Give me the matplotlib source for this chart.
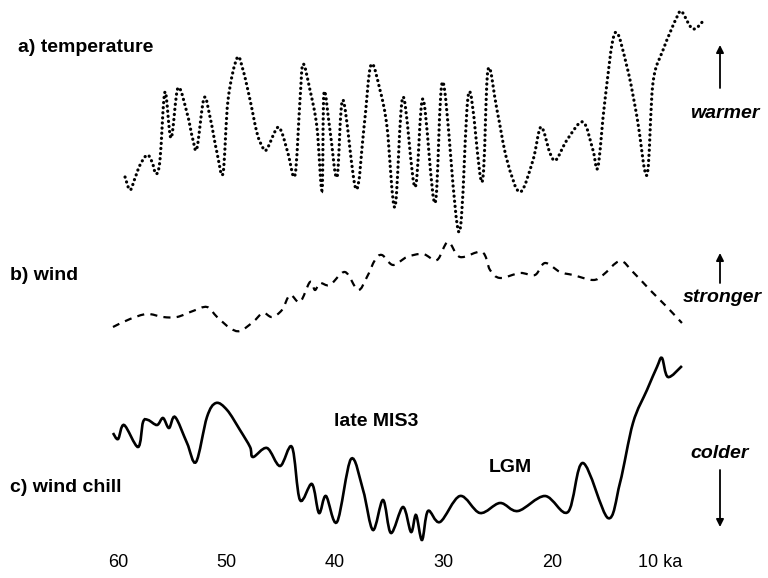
import numpy as np
import matplotlib
matplotlib.use("Agg")
import matplotlib.pyplot as plt
from matplotlib.path import Path
from matplotlib.patches import PathPatch

plt.rcParams['font.family'] = ['Liberation Sans', 'DejaVu Sans']

# ---- data (age in ka, relative values) ----
temp_age = [59.34, 58.88, 58.42, 57.96, 57.31, 56.85, 56.48, 56.12, 55.66, 55.10,
            54.46, 53.63, 53.08, 52.71, 52.06, 51.51, 50.86, 50.31, 49.85, 49.02,
            48.47, 47.82, 47.18, 46.63, 46.26, 45.34, 44.88, 44.33, 43.68, 43.22,
            42.94, 42.30, 41.66, 41.19, 41.01, 40.46, 39.81, 39.26, 38.06, 37.32,
            36.68, 35.85, 35.20, 34.47, 33.73, 32.62, 31.89, 30.78, 30.05, 28.57,
            27.65, 26.45, 25.90, 25.07, 24.15, 22.95, 21.75, 21.02, 20.19, 19.64,
            18.62, 17.15, 16.23, 15.77, 15.12, 14.20, 13.09, 12.17, 11.25, 10.70,
            9.77, 8.49, 8.03, 7.01, 5.91]
temp_val = [63, 50, 62, 75, 85, 78, 66, 80, 148, 102,
            152, 127, 100, 92, 142, 123, 87, 67, 140, 182,
            170, 140, 107, 92, 91, 112, 107, 87, 65, 140,
            176, 150, 113, 50, 147, 110, 63, 140, 51, 113,
            175, 150, 113, 33, 143, 53, 141, 37, 158, 8,
            148, 58, 170, 130, 80, 48, 80, 113, 87, 80,
            100, 118, 90, 73, 140, 207, 173, 123, 65, 157,
            190, 223, 228, 211, 221]

wind_age = [60.45, 58.88, 57.31, 55.84, 54.55, 53.08, 51.79, 50.86, 49.67, 48.75,
            47.55, 46.63, 45.80, 44.88, 44.14, 43.22, 42.30, 41.84, 41.38, 40.46,
            39.08, 37.88, 37.05, 36.31, 35.67, 34.65, 33.36, 31.89, 30.60, 29.59,
            28.48, 26.45, 25.71, 24.79, 22.95, 21.57, 20.65, 19.26, 18.07, 16.23,
            15.30, 13.74, 12.54, 10.97, 9.41, 8.03]
wind_val = [13, 21, 26, 23, 23, 29, 33, 23, 12, 9,
            18, 27, 23, 30, 45, 38, 58, 50, 57, 55,
            68, 50, 63, 80, 85, 75, 83, 86, 80, 98,
            83, 88, 70, 62, 67, 65, 77, 68, 65, 60,
            65, 79, 68, 50, 33, 17]

chill_age = [60.45, 59.98, 59.43, 58.14, 57.68, 57.22, 56.39, 55.84, 55.29, 54.73,
             53.63, 52.80, 51.79, 50.96, 49.94, 48.75, 47.82, 47.55, 46.26, 45.06,
             43.96, 43.22, 42.12, 41.47, 40.83, 39.81, 38.52, 37.41, 36.50, 35.57,
             34.84, 33.73, 32.99, 32.53, 31.98, 31.43, 30.32, 28.48, 26.64, 24.79,
             23.14, 20.65, 18.53, 17.15, 14.85, 13.74, 12.54, 11.25, 10.33, 9.87,
             9.32, 8.03]
chill_val = [145, 139, 153, 131, 156, 158, 153, 160, 150, 161,
             135, 116, 161, 175, 168, 148, 131, 121, 130, 112,
             131, 78, 94, 65, 82, 56, 119, 88, 48, 78,
             45, 71, 46, 63, 38, 67, 56, 82, 65, 75,
             67, 82, 66, 115, 60, 95, 155, 188, 211, 220,
             201, 212]

tick_ages = [60, 50, 40, 30, 20, 10]
tick_labels = ["60", "50", "40", "30", "20", "10 ka"]

panel_labels = ["a) temperature", "b) wind", "c) wind chill"]
direction_labels = ["warmer", "stronger", "colder"]


def smooth_path(x, y):
    x = np.asarray(x, float)
    y = np.asarray(y, float)
    n = len(x)
    verts = [(x[0], y[0])]
    codes = [Path.MOVETO]
    for i in range(n - 1):
        i0 = max(i - 1, 0)
        i3 = min(i + 2, n - 1)
        c1 = (x[i] + (x[i + 1] - x[i0]) / 6, y[i] + (y[i + 1] - y[i0]) / 6)
        c2 = (x[i + 1] - (x[i3] - x[i]) / 6, y[i + 1] - (y[i3] - y[i]) / 6)
        verts += [c1, c2, (x[i + 1], y[i + 1])]
        codes += [Path.CURVE4] * 3
    return Path(verts, codes)


W, H = 768, 578
fig = plt.figure(figsize=(W / 100, H / 100), dpi=100)

XLIM = (70.86, 0.10)

ax_a = fig.add_axes([0, 1 - 240 / H, 1, 240 / H])
ax_b = fig.add_axes([0, 1 - 340 / H, 1, 100 / H])
ax_c = fig.add_axes([0, 30 / H, 1, 208 / H])
for ax in (ax_a, ax_b, ax_c):
    ax.set_xlim(*XLIM)
    for s in ax.spines.values():
        s.set_visible(False)
    ax.set_yticks([])
    ax.patch.set_alpha(0)
ax_a.set_ylim(0, 240)
ax_b.set_ylim(0, 100)
ax_c.set_ylim(30, 238)
ax_a.set_xticks([])
ax_b.set_xticks([])

# temperature (dotted)
pa = PathPatch(smooth_path(temp_age, temp_val), fill=False, lw=2.3,
               edgecolor='black', linestyle=(0, (0.05, 1.55)), clip_on=False)
pa.set_capstyle('round')
ax_a.add_patch(pa)

# wind (dashed)
pb = PathPatch(smooth_path(wind_age, wind_val), fill=False, lw=1.6,
               edgecolor='black', linestyle=(0, (3.2, 2.8)), clip_on=False)
pb.set_capstyle('butt')
ax_b.add_patch(pb)

# wind chill (solid)
pc = PathPatch(smooth_path(chill_age, chill_val), fill=False, lw=1.9,
               edgecolor='black', clip_on=False)
ax_c.add_patch(pc)

ax_c.set_xticks(tick_ages)
ax_c.set_xticklabels(tick_labels, fontsize=13)
ax_c.tick_params(axis='x', length=0, pad=4)

# panel labels
fs = 14
fig.text(18 / W, 1 - 47 / H, panel_labels[0], fontsize=fs, fontweight='bold',
         ha='left', va='center')
fig.text(10 / W, 1 - 275 / H, panel_labels[1], fontsize=fs, fontweight='bold',
         ha='left', va='center')
fig.text(10 / W, 1 - 488 / H, panel_labels[2], fontsize=fs, fontweight='bold',
         ha='left', va='center')

fig.text(376 / W, 1 - 421 / H, "late MIS3", fontsize=fs, fontweight='bold',
         ha='center', va='center')
fig.text(510 / W, 1 - 467 / H, "LGM", fontsize=fs, fontweight='bold',
         ha='center', va='center')

fig.text(725 / W, 1 - 113 / H, direction_labels[0], fontsize=fs, fontweight='bold',
         style='italic', ha='center', va='center')
fig.text(722 / W, 1 - 297 / H, direction_labels[1], fontsize=fs, fontweight='bold',
         style='italic', ha='center', va='center')
fig.text(720 / W, 1 - 453 / H, direction_labels[2], fontsize=fs, fontweight='bold',
         style='italic', ha='center', va='center')

arrow_kw = dict(arrowstyle='-|>', mutation_scale=11, lw=1.3, color='black',
                shrinkA=0, shrinkB=0)
fig.add_artist(plt.Annotation('', xy=(720 / W, 1 - 45 / H), xytext=(720 / W, 1 - 88 / H),
                              xycoords='figure fraction', arrowprops=arrow_kw))
fig.add_artist(plt.Annotation('', xy=(720 / W, 1 - 253 / H), xytext=(720 / W, 1 - 283 / H),
                              xycoords='figure fraction', arrowprops=arrow_kw))
fig.add_artist(plt.Annotation('', xy=(720 / W, 1 - 527 / H), xytext=(720 / W, 1 - 470 / H),
                              xycoords='figure fraction', arrowprops=arrow_kw))

fig.savefig("out.png", dpi=100, facecolor='white')
